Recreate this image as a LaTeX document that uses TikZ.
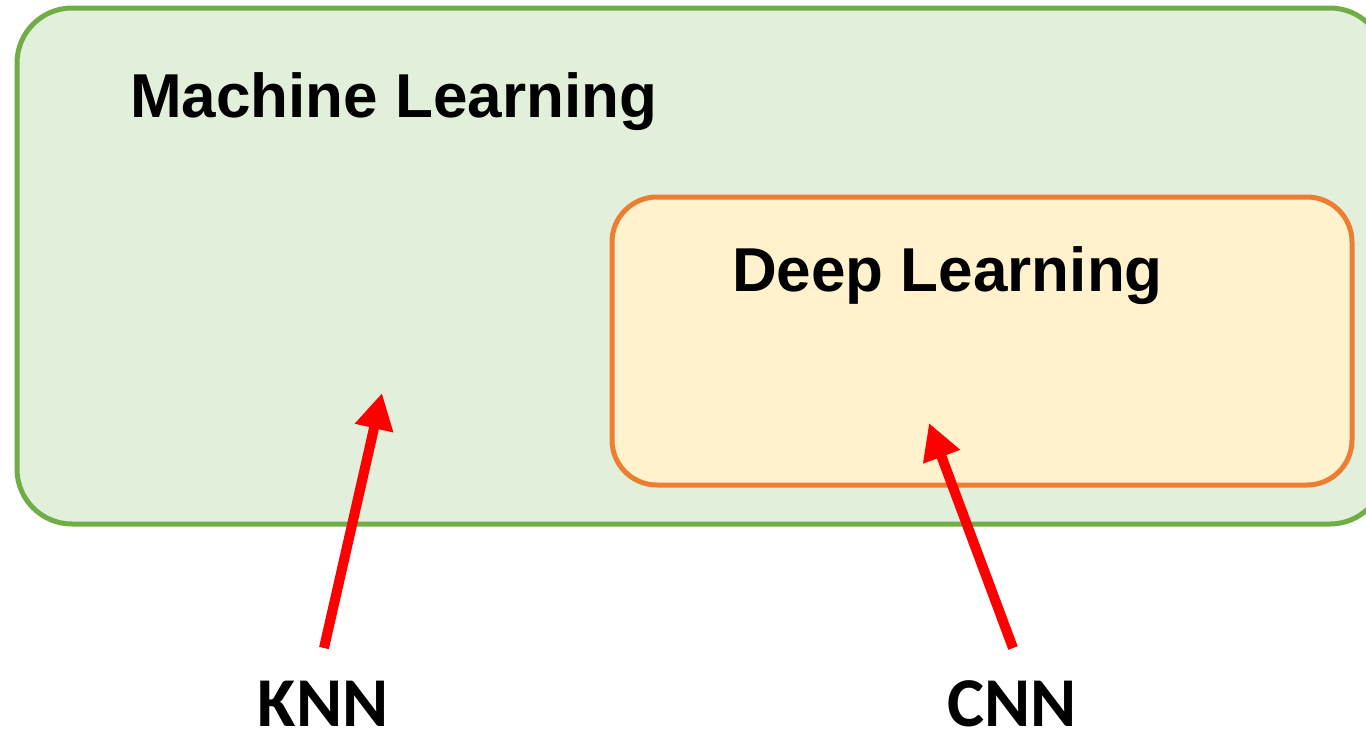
\documentclass[tikz,border=0pt]{standalone}
\usepackage{fontspec}
\setmainfont{Liberation Sans}
\newfontfamily\calfont{Carlito}
\usetikzlibrary{arrows.meta}
\definecolor{mlfill}{HTML}{E2EFDA}
\definecolor{mldraw}{HTML}{70AD47}
\definecolor{dlfill}{HTML}{FFF2CC}
\definecolor{dldraw}{HTML}{ED7D31}
\definecolor{pointer}{HTML}{FF0000}
\tikzset{
  title/.style={anchor=base west, inner sep=0pt, font=\fontsize{62}{62}\selectfont\bfseries},
  tag/.style={anchor=base, inner sep=0pt, font=\fontsize{70}{70}\selectfont\calfont\bfseries},
  pointarrow/.style={draw=pointer, line width=10pt, -{Triangle[length=36pt,width=37pt]}},
}
\begin{document}
\begin{tikzpicture}[x=1pt,y=-1pt]
\useasboundingbox (0,0) rectangle (1366,732);
\fill[white] (0,0) rectangle (1366,732);
% machine learning region
\draw[mldraw, fill=mlfill, line width=5pt, rounded corners=55pt] (17,8) rectangle (1385,524);
% deep learning region
\draw[dldraw, fill=dlfill, line width=5pt, rounded corners=45pt] (612,197) rectangle (1352,485);
\node[title] (ml) at (130,117) {Machine Learning};
\node[title] (dl) at (732,291) {Deep Learning};
% labels and pointers
\node[tag] (knn) at (323,726) {KNN};
\node[tag] (cnn) at (1012,726) {CNN};
\coordinate (knntail) at (324,648);
\coordinate (knntip) at (382,393);
\coordinate (cnntail) at (1013,648);
\coordinate (cnntip) at (929,423);
\draw[pointarrow] (knntail) -- (knntip);
\draw[pointarrow] (cnntail) -- (cnntip);
\end{tikzpicture}
\end{document}
